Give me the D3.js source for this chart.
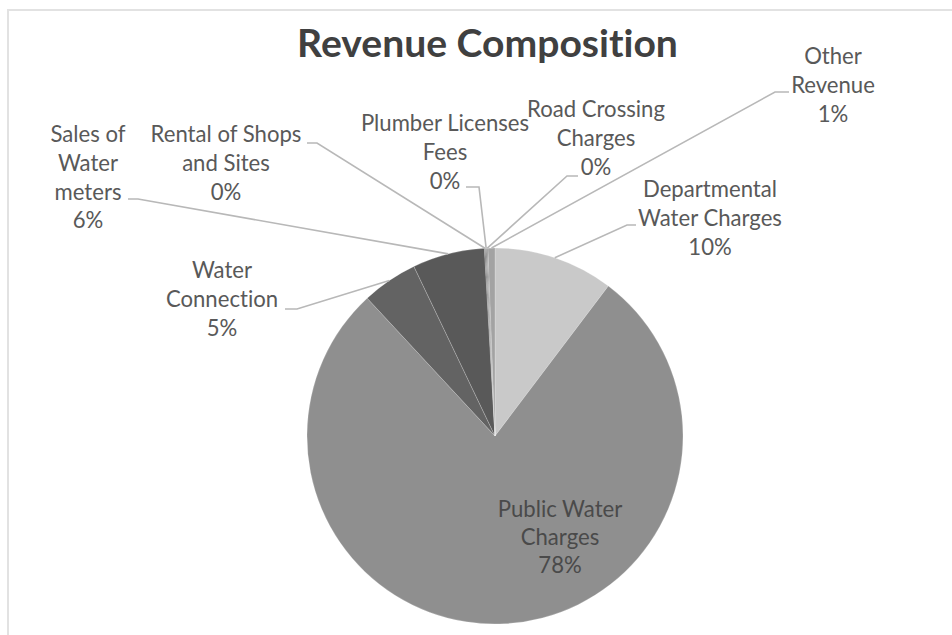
<!DOCTYPE html>
<html>
<head>
<meta charset="utf-8">
<script src="https://cdn.jsdelivr.net/npm/d3@7"></script>
<style>
  html, body { margin: 0; padding: 0; background: #fff; }
  svg { display: block; }
  text { font-variant-ligatures: none; font-feature-settings: "liga" 0, "dlig" 0; }
</style>
</head>
<body>
<svg id="chart" width="952" height="635"></svg>
<script>
// Revenue composition (share of total, %), in drawing order clockwise from 12 o'clock
const categories = [
  "Departmental Water Charges",
  "Public Water Charges",
  "Water Connection",
  "Sales of Water meters",
  "Rental of Shops and Sites",
  "Plumber Licenses Fees",
  "Road Crossing Charges",
  "Other Revenue"
];
const shares = [10.3, 77.8, 4.8, 6.2, 0.1, 0.1, 0.1, 0.6];
const sliceColors = ["#c9c9c9", "#8f8f8f", "#636363", "#595959", "#6e6e6e", "#7a7a7a", "#8a8a8a", "#a3a3a3"];
const chartTitle = "Revenue Composition";

// Label wrapping and placement for each slice
const labelLines = [
  ["Departmental", "Water Charges"],
  ["Public Water", "Charges"],
  ["Water", "Connection"],
  ["Sales of", "Water", "meters"],
  ["Rental of Shops", "and Sites"],
  ["Plumber Licenses", "Fees"],
  ["Road Crossing", "Charges"],
  ["Other", "Revenue"]
];
// [centre x, first baseline y]
const labelPos = [
  [710, 197], [560, 517], [222, 278], [88, 142],
  [226, 142], [445, 131], [596, 117], [833, 64]
];
// leader line: elbow point, then end point next to the label (null = label sits inside)
const leaderPts = [
  [[627, 225], [636, 225]],
  null,
  [[297, 309], [285, 309]],
  [[138, 199], [128, 199]],
  [[317, 143], [307, 143]],
  [[479, 187], [466, 187]],
  [[567, 176], [578, 176]],
  [[775, 92], [789, 92]]
];

const svg = d3.select("#chart");
const W = 952, H = 635;
const cx = 495, cy = 436, R = 188;
const lineH = 28.8;
const FONT = "Lato, 'Open Sans', sans-serif";

// chart area frame (top and left edges visible)
svg.append("rect")
  .attr("x", 8).attr("y", 10)
  .attr("width", W + 20).attr("height", H + 20)
  .attr("fill", "#fff")
  .attr("stroke", "#e2e2e2")
  .attr("stroke-width", 2);

// fit a font size so a sample string reaches a given width
function fitSize(text, weight, targetW) {
  const t = svg.append("text")
    .attr("font-family", FONT).attr("font-weight", weight)
    .attr("font-size", 20).text(text);
  const w = t.node().getComputedTextLength();
  t.remove();
  return 20 * targetW / w;
}
const labelSize = fitSize("Departmental", 400, 134);
const titleSize = fitSize(chartTitle, 700, 381);

// title
svg.append("text")
  .attr("x", 487.5).attr("y", 57)
  .attr("text-anchor", "middle")
  .attr("font-family", FONT)
  .attr("font-weight", 700)
  .attr("font-size", titleSize)
  .attr("fill", "#404040")
  .text(chartTitle);

const total = d3.sum(shares);
const data = categories.map((c, i) => ({ name: c, value: shares[i], i }));

const pie = d3.pie().sort(null).value(d => d.value);
const arcs = pie(data);
const arc = d3.arc().innerRadius(0).outerRadius(R);
const rim = d3.arc().innerRadius(R).outerRadius(R);

const g = svg.append("g").attr("transform", `translate(${cx},${cy})`);

g.selectAll("path.slice")
  .data(arcs)
  .join("path")
  .attr("class", "slice")
  .attr("d", arc)
  .attr("fill", d => sliceColors[d.data.i])
  .attr("stroke", "rgba(255,255,255,0.25)")
  .attr("stroke-width", 0.8);

// leader lines from slice rims to labels
const line = d3.line();
arcs.forEach(a => {
  const lp = leaderPts[a.data.i];
  if (!lp) return;
  const [px, py] = rim.centroid(a);
  const pts = [[cx + px, cy + py], lp[0], lp[1]];
  svg.append("path")
    .attr("d", line(pts))
    .attr("fill", "none")
    .attr("stroke", "#b8b8b8")
    .attr("stroke-width", 1.6);
});

// data labels: category name + rounded percentage
arcs.forEach(a => {
  const i = a.data.i;
  const pct = Math.round(a.data.value / total * 100) + "%";
  const lines = labelLines[i].concat([pct]);
  const [x, y0] = labelPos[i];
  const t = svg.append("text")
    .attr("text-anchor", "middle")
    .attr("font-family", FONT)
    .attr("font-size", labelSize)
    .attr("fill", i === 1 ? "#4a4a4a" : "#595959");
  lines.forEach((s, k) => {
    t.append("tspan").attr("x", x).attr("y", y0 + k * (i === 1 ? 28 : lineH)).text(s);
  });
});
</script>
</body>
</html>
